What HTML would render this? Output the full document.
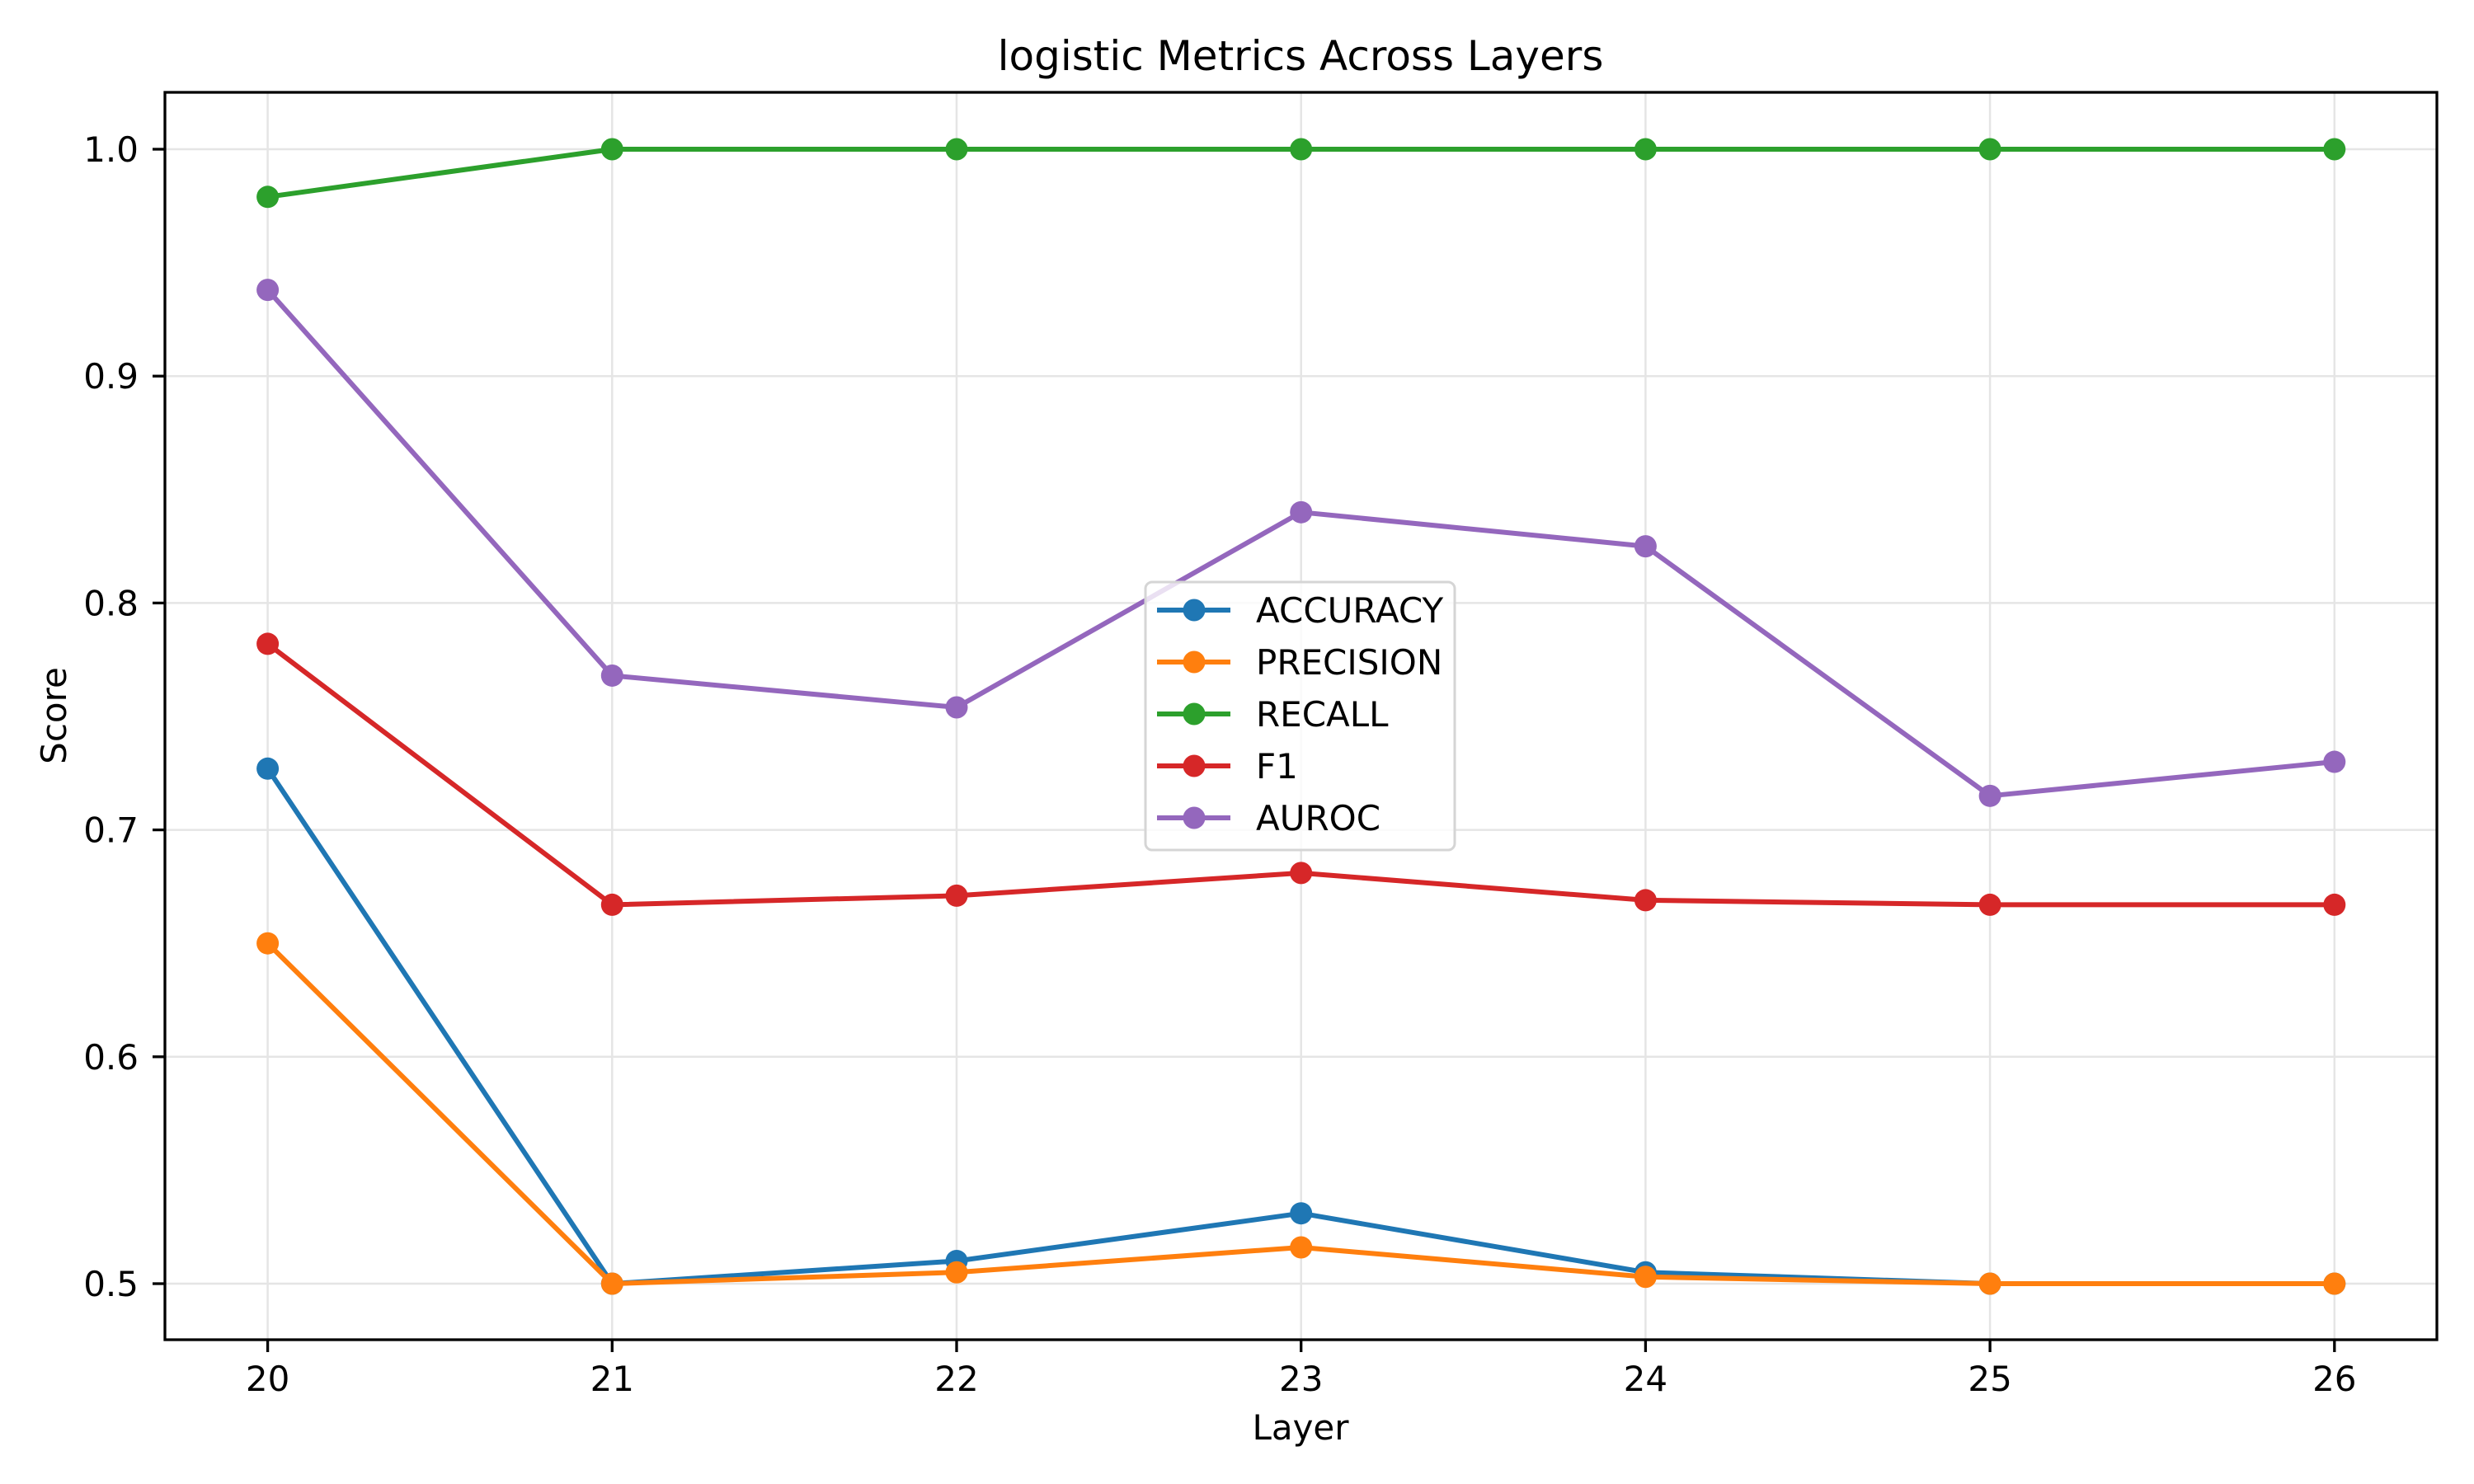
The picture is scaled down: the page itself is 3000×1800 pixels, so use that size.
<!DOCTYPE html>
<html><head><meta charset="utf-8"><style>html,body{margin:0;padding:0;background:#fff}svg{display:block}text{font-family:"DejaVu Sans","Liberation Sans",sans-serif}</style></head>
<body>
<svg id="chart" xmlns="http://www.w3.org/2000/svg" width="3000" height="1800" viewBox="0 0 3000 1800">
<rect x="0" y="0" width="3000" height="1800" fill="#fff"/>
<g id="grid"></g><g id="series"></g><g id="axes"></g><g id="legend"></g>
<text x="1577" y="85" font-size="50" text-anchor="middle">logistic Metrics Across Layers</text>
<text x="1577" y="1746" font-size="42" text-anchor="middle">Layer</text>
<text x="80" y="868" font-size="42" text-anchor="middle" transform="rotate(-90 80 868)">Score</text>
</svg>
<script>
const layers = [20,21,22,23,24,25,26];
const accuracy = [0.727,0.500,0.510,0.531,0.505,0.500,0.500];
const precision = [0.650,0.500,0.505,0.516,0.503,0.500,0.500];
const recall = [0.979,1.0,1.0,1.0,1.0,1.0,1.0];
const f1 = [0.782,0.667,0.671,0.681,0.669,0.667,0.667];
const auroc = [0.938,0.768,0.754,0.840,0.825,0.715,0.730];
const yTicks = [0.5,0.6,0.7,0.8,0.9,1.0];
const yTickLabels = ["0.5","0.6","0.7","0.8","0.9","1.0"];
const seriesNames = ["ACCURACY","PRECISION","RECALL","F1","AUROC"];

const NS="http://www.w3.org/2000/svg";
const L=200,R=2955,T=112,B=1625;
function xs(v){return 324.6+(v-20)*417.7;}
function ys(v){return 1557-(v-0.5)*2752;}
function mk(tag,attrs,parent){const e=document.createElementNS(NS,tag);for(const k in attrs)e.setAttribute(k,attrs[k]);parent.appendChild(e);return e;}
const grid=document.getElementById('grid'),axes=document.getElementById('axes'),ser=document.getElementById('series'),leg=document.getElementById('legend');
layers.forEach(v=>{
  const g=mk('line',{x1:xs(v),x2:xs(v),y1:T,y2:B,stroke:'#e5e5e5','stroke-width':2.5},grid);
  
  
  const t=mk('line',{x1:xs(v),x2:xs(v),y1:B,y2:B+15,stroke:'#000','stroke-width':3.3},axes);
  
  
  const lb=mk('text',{x:xs(v),y:1687,'font-size':42,'text-anchor':'middle'},axes);
  lb.textContent=String(v);
  
  
});
yTicks.forEach((v,i)=>{
  const g=mk('line',{x1:L,x2:R,y1:ys(v),y2:ys(v),stroke:'#e5e5e5','stroke-width':2.5},grid);
  
  
  const t=mk('line',{x1:L-15,x2:L,y1:ys(v),y2:ys(v),stroke:'#000','stroke-width':3.3},axes);
  
  
  const lb=mk('text',{x:168,y:ys(v)+15,'font-size':42,'text-anchor':'end'},axes);
  lb.textContent=yTickLabels[i];
  
  
});
const frame=mk('rect',{x:L,y:T,width:R-L,height:B-T,fill:'none',stroke:'#000','stroke-width':3.3},axes);


const colors=['#1f77b4','#ff7f0e','#2ca02c','#d62728','#9467bd'];
const data=[accuracy,precision,recall,f1,auroc];
data.forEach((arr,si)=>{
  const g=mk('g',{},ser);
  
  
  const pl=mk('polyline',{points:arr.map((v,i)=>xs(layers[i])+','+ys(v)).join(' '),fill:'none',stroke:colors[si],'stroke-width':6,'stroke-linejoin':'round'},g);
  
  
  arr.forEach((v,i)=>{
    const c=mk('circle',{cx:xs(layers[i]),cy:ys(v),r:13.5,fill:colors[si]},g);
    
    
  });
});
const box=mk('rect',{x:1389,y:706,width:375,height:325,rx:8,fill:'#fff','fill-opacity':0.8,stroke:'#d5d5d5','stroke-width':3},leg);


seriesNames.forEach((n,i)=>{
  const y=740+i*63;
  const g=mk('g',{},leg);
  
  
  mk('line',{x1:1403,x2:1492,y1:y,y2:y,stroke:colors[i],'stroke-width':6},g);
  mk('circle',{cx:1448,cy:y,r:13.5,fill:colors[i]},g);
  const t=mk('text',{x:1523,y:y+15,'font-size':42},g);
  t.textContent=n;
});
</script>
</body></html>
